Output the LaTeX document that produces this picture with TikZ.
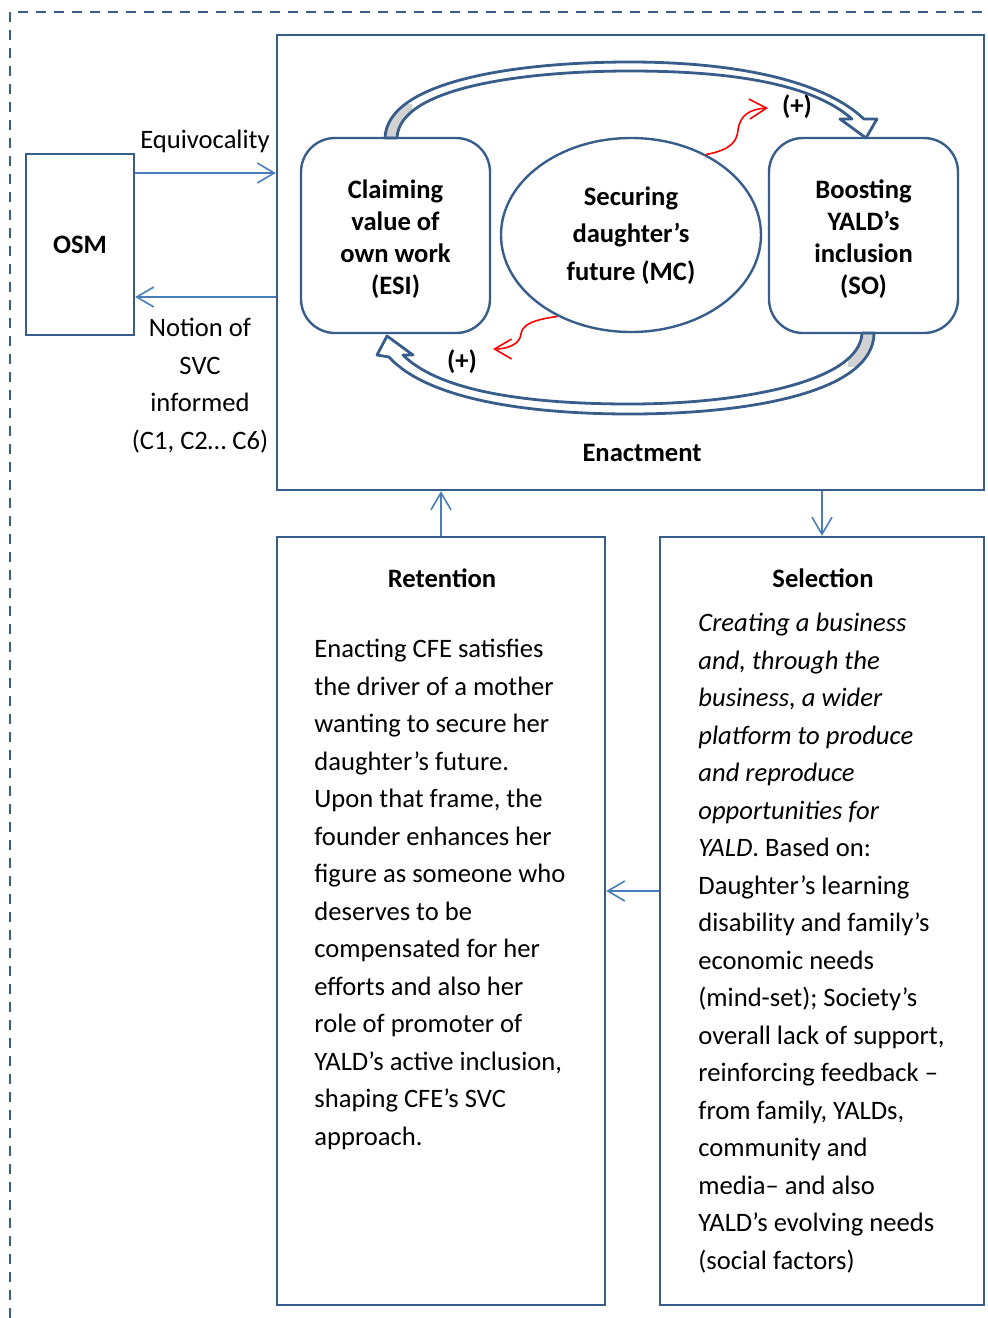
\documentclass[tikz,border=0pt]{standalone}
\usepackage{fontspec}
\setmainfont{Carlito}
\usetikzlibrary{arrows.meta, shapes.geometric}

\definecolor{boxblue}{HTML}{385D8A}
\definecolor{linkblue}{HTML}{4A7EBB}

% curved block arrows round the cycle
\newcommand{\topflow}{(385,138) .. controls (387,80) and (520,62) .. (630,62) .. controls (740,62) and (825,82) .. (864,119) -- (877,119) -- (866,138) -- (840,119) -- (852,119) .. controls (815,86) and (740,71) .. (630,71) .. controls (530,71) and (399,86) .. (397,138) -- cycle}
\newcommand{\botflow}{(862,333) .. controls (860,382) and (740,404) .. (630,404) .. controls (530,404) and (440,392) .. (403,355) -- (413,355) -- (387,336) -- (377,355) -- (389,357) .. controls (428,400) and (530,414) .. (630,414) .. controls (750,414) and (874,392) .. (874,333) -- cycle}

\begin{document}
\begin{tikzpicture}[x=0.5pt, y=-0.5pt, font=\fontsize{13.3}{18.75}\selectfont]
        % Setup the styles
        \tikzset{box/.style={draw=boxblue, line width=1.2pt, inner sep=0pt},
                 state box/.style={box,
                                   rounded corners=17pt,
                                   minimum width=94.5pt,
                                   minimum height=97.5pt},
                 state text/.style={align=center,
                                    font=\bfseries\fontsize{13.3}{16}\selectfont},
                 bold label/.style={align=center,
                                    font=\bfseries\fontsize{13.3}{18.75}\selectfont},
                 body text/.style={anchor=north west, align=left, inner sep=0pt},
                 link/.style={draw=linkblue, line width=0.8pt,
                              -{Straight Barb[length=8.5pt,width=10pt]}},
                 push/.style={draw=red, line width=0.8pt,
                              -{Straight Barb[length=8.5pt,width=10pt]}},
                 flow/.style={draw=boxblue, line width=1.4pt, line join=round}}

        \useasboundingbox (0,0) rectangle (988,1318);

        % Dashed frame
        \draw[boxblue, line width=1.2pt, dash pattern=on 5pt off 4pt] (10,1318) -- (10,12) -- (988,12);

        % Draw the boxes
        \node[box, minimum width=54pt, minimum height=90.5pt] at (80,244.5) (osm) {};
        \node[bold label] at (80,245) (osmlbl) {OSM};
        \node[box, minimum width=353.5pt, minimum height=227.5pt] at (630.5,262.5) (enact) {};
        \node[bold label] at (642,453) (enactlbl) {Enactment};

        % Block arrows of the cycle
        \fill[white] \topflow;
        \begin{scope}
            \clip (370,104) rectangle (412,140);
            \fill[gray!35] \topflow;
        \end{scope}
        \draw[flow] \topflow;
        \fill[white] \botflow;
        \begin{scope}
            \clip (848,331) rectangle (886,366);
            \fill[gray!35] \botflow;
        \end{scope}
        \draw[flow] \botflow;

        \node[state box] at (395.5,235.5) (esi) {};
        \node[state text] at (395.5,239.5) (esilbl) {Claiming\\value of\\own work\\(ESI)};
        \node[box, ellipse, minimum width=130pt, minimum height=97pt] at (631,235) (mc) {};
        \node[bold label] at (631,235.5) (mclbl) {Securing\\daughter’s\\future (MC)};
        \node[state box] at (863.5,235.5) (so) {};
        \node[state text] at (863.5,239.5) (solbl) {Boosting\\YALD’s\\inclusion\\(SO)};

        \node[box, minimum width=164pt, minimum height=384pt] at (441,921) (ret) {};
        \node[box, minimum width=162pt, minimum height=384pt] at (822,921) (sel) {};

        % Labels
        \node at (205,141) (eqlbl) {Equivocality};
        \node[align=center] at (200,385.5) (svclbl) {Notion of\\SVC\\informed\\(C1, C2… C6)};
        \node[bold label] at (797,107) (plustop) {(+)};
        \node[bold label] at (462,362) (plusbot) {(+)};

        \node[bold label] at (442,578) (rettitle) {Retention};
        \node[body text] at (314,639) (rettext)
            {Enacting CFE satisfies\\the driver of a mother\\wanting to secure her\\daughter’s future.\\Upon that frame, the\\founder enhances her\\figure as someone who\\deserves to be\\compensated for her\\efforts and also her\\role of promoter of\\YALD’s active inclusion,\\shaping CFE’s SVC\\approach.};

        \node[bold label] at (823,578) (seltitle) {Selection};
        \node[body text] at (698,613) (seltext)
            {\textit{Creating a business}\\\textit{and, through the}\\\textit{business, a wider}\\\textit{platform to produce}\\\textit{and reproduce}\\\textit{opportunities for}\\\textit{YALD}. Based on:\\Daughter’s learning\\disability and family’s\\economic needs\\(mind-set); Society’s\\overall lack of support,\\reinforcing feedback –\\from family, YALDs,\\community and\\media– and also\\YALD’s evolving needs\\(social factors)};

        % Connect the boxes with arrows
        \coordinate (eqy) at (0,173);
        \coordinate (svcy) at (0,297);
        \coordinate (backy) at (0,891);
        \coordinate (pushtip) at (768,108);
        \coordinate (pullend) at (493,349);
        \draw[link] (osm.east |- eqy) -- (enact.west |- eqy);
        \draw[link] (enact.west |- svcy) -- (osm.east |- svcy);
        \draw[link] (ret.north) -- (ret.north |- enact.south);
        \draw[link] (sel.north |- enact.south) -- (sel.north);
        \draw[link] (sel.west |- backy) -- (ret.east |- backy);

        % Red reinforcing arrows
        \draw[push] (mc.47) .. controls (730,150) and (737,142) .. (738,130)
                            .. controls (740,115) and (750,109) .. (pushtip);
        \draw[push] (mc.228) .. controls (530,320) and (522,326) .. (521,334)
                             .. controls (520,344) and (508,349) .. (pullend);
\end{tikzpicture}
\end{document}
